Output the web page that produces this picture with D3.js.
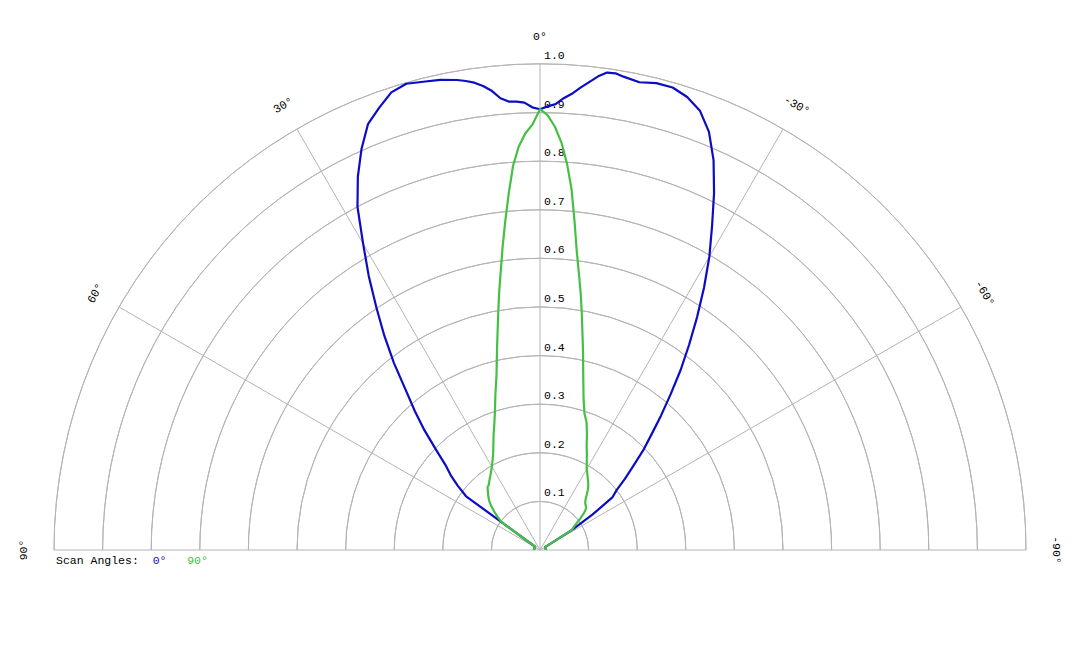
<!DOCTYPE html>
<html>
<head>
<meta charset="utf-8">
<script src="https://cdn.jsdelivr.net/npm/d3@7/dist/d3.min.js"></script>
<style>
  html, body { margin: 0; padding: 0; background: #fff; }
  svg { display: block; }
  text { font-family: "Liberation Mono", "Courier New", monospace; }
</style>
</head>
<body>
<svg id="chart" width="1080" height="648"></svg>
<script>
// ---- data (angle in degrees, positive = left of vertical) ----
const angles = [-90,-85,-80,-75,-70,-65,
  -60,-58,-56,-54,-52,-50,-48,-46,-44,-42,-40,-38,-36,-34,-32,-30,-28,-26,-24,-22,-20,-18,-16,-14,-12,
  -10,-9,-8,-7,-6,-5,-4,-3,-2,-1,0,1,2,3,4,5,6,7,8,9,10,
  12,14,16,18,20,22,24,26,28,30,32,34,36,38,40,42,44,46,48,50,52,54,56,58,60,
  65,70,75,80,85,90];

const scan0 = [0.012,0.012,0.012,0.012,0.012,0.012,
  0.012,0.077,0.130,0.184,0.200,0.228,0.258,0.295,0.330,0.372,0.418,0.470,0.522,0.578,0.637,0.697,0.754,0.817,0.878,0.928,0.962,0.980,0.990,0.990,0.984,
  0.989,0.993,0.992,0.982,0.968,0.955,0.941,0.931,0.918,0.913,0.907,0.911,0.921,0.924,0.925,0.933,0.950,0.962,0.971,0.977,0.982,
  0.989,0.993,0.998,0.990,0.968,0.945,0.903,0.855,0.800,0.728,0.665,0.602,0.545,0.488,0.430,0.385,0.342,0.298,0.262,0.240,0.215,0.188,0.012,0.012,0.012,
  0.012,0.012,0.012,0.012,0.012,0.012];

const scan90 = [0.012,0.012,0.012,0.012,0.012,0.012,
  0.012,0.077,0.083,0.092,0.105,0.118,0.128,0.131,0.134,0.140,0.150,0.161,0.169,0.176,0.184,0.192,0.205,0.220,0.236,0.258,0.280,0.296,0.325,0.368,0.425,
  0.495,0.535,0.575,0.620,0.680,0.745,0.797,0.840,0.872,0.895,0.907,0.876,0.858,0.832,0.793,0.737,0.682,0.630,0.580,0.537,0.495,
  0.425,0.370,0.333,0.300,0.275,0.255,0.236,0.220,0.208,0.198,0.190,0.183,0.177,0.171,0.168,0.160,0.153,0.145,0.135,0.123,0.110,0.098,0.012,0.012,0.012,
  0.012,0.012,0.012,0.012,0.012,0.012];

const ringTicks = [0.1,0.2,0.3,0.4,0.5,0.6,0.7,0.8,0.9,1.0];
const spokeAngles = [90,60,30,0,-30,-60,-90];
const spokeLabels = ["90°","60°","30°","0°","-30°","-60°","-90°"];
const seriesNames = ["0°","90°"];
const seriesColors = ["#0c0cc4","#44c044"];

// ---- layout ----
const cx = 540, cy = 550, R = 486;
const svg = d3.select("#chart");
const g = svg.append("g").attr("transform", `translate(${cx},${cy})`);

const r = d3.scaleLinear().domain([0, 1]).range([0, R]);
const toRad = d => -d * Math.PI / 180;   // positive angle -> counter-clockwise (left)

// rings (semicircles)
const arc = d3.arc().innerRadius(d => r(d)).outerRadius(d => r(d))
  .startAngle(-Math.PI / 2).endAngle(Math.PI / 2);
g.selectAll("path.ring").data(ringTicks).join("path")
  .attr("class", "ring")
  .attr("d", arc)
  .attr("fill", "none")
  .attr("stroke", "#b4b4b4")
  .attr("stroke-width", 1);

// spokes
g.selectAll("line.spoke").data(spokeAngles).join("line")
  .attr("class", "spoke")
  .attr("x1", 0).attr("y1", 0)
  .attr("x2", d => r(1) * Math.sin(toRad(d)))
  .attr("y2", d => -r(1) * Math.cos(toRad(d)))
  .attr("stroke", "#b4b4b4")
  .attr("stroke-width", 1);

// ring labels
g.selectAll("text.rl").data(ringTicks).join("text")
  .attr("class", "rl")
  .attr("x", 4)
  .attr("y", d => -r(d) - 5)
  .attr("font-size", 11.5)
  .attr("fill", "#000")
  .text(d => d.toFixed(1));

// spoke labels
const labR = d => Math.abs(d) === 90 ? 516 : 513;
g.selectAll("text.sl").data(spokeAngles).join("text")
  .attr("class", "sl")
  .attr("transform", d => {
    const a = toRad(d);
    const x = labR(d) * Math.sin(a), y = -labR(d) * Math.cos(a);
    return `translate(${x},${y}) rotate(${-d})`;
  })
  .attr("text-anchor", "middle")
  .attr("dominant-baseline", "middle")
  .attr("font-size", 11.5)
  .attr("fill", "#000")
  .text((d, i) => spokeLabels[i]);

// curves
const line = d3.lineRadial()
  .angle(d => toRad(d[0]))
  .radius(d => r(d[1]))
  .curve(d3.curveLinear);

const series = [scan0, scan90];
series.forEach((vals, i) => {
  g.append("path")
    .datum(angles.map((a, j) => [a, vals[j]]))
    .attr("d", line)
    .attr("fill", "none")
    .attr("stroke", seriesColors[i])
    .attr("stroke-width", 2.2)
    .attr("stroke-linejoin", "round");
});

// legend
const leg = svg.append("text")
  .attr("x", 56).attr("y", 564)
  .attr("font-size", 11.5)
  .attr("xml:space", "preserve");
leg.append("tspan").attr("fill", "#000").text("Scan Angles:  ");
seriesNames.forEach((n, i) => {
  leg.append("tspan").attr("fill", seriesColors[i]).text(n + (i < seriesNames.length - 1 ? "   " : ""));
});
</script>
</body>
</html>
